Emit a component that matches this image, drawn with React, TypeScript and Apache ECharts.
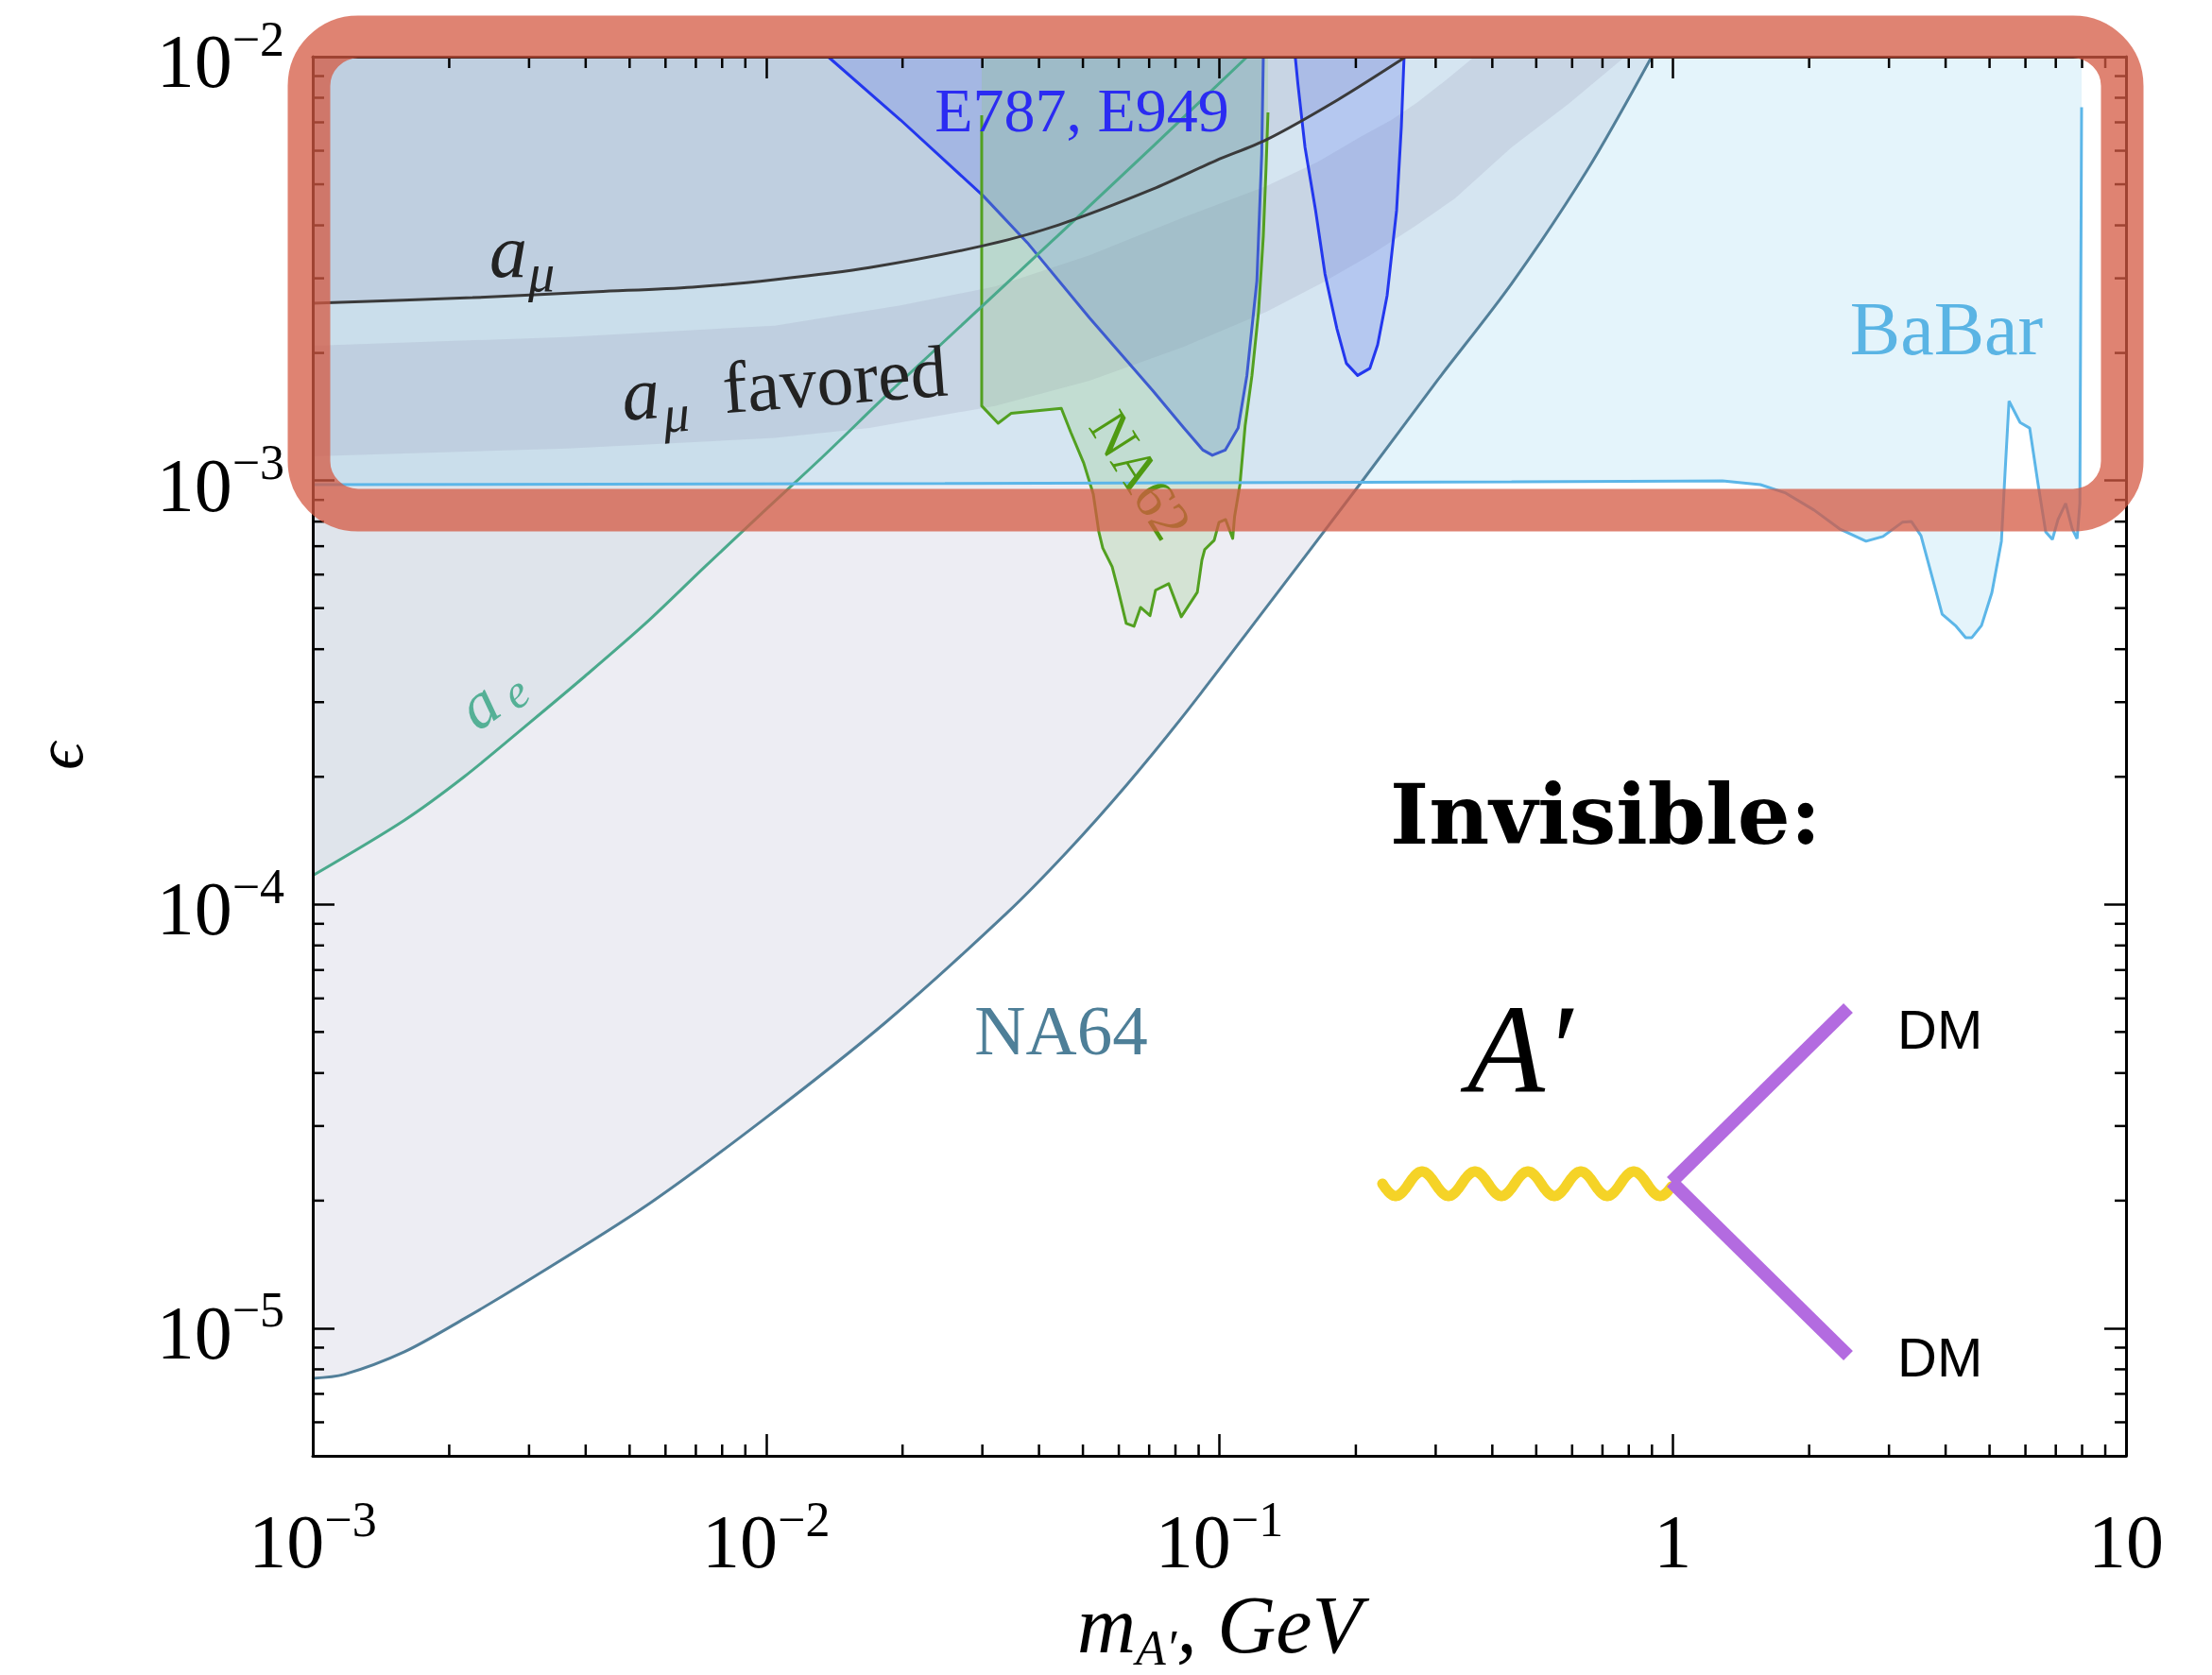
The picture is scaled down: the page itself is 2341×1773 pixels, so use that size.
import React, { useEffect, useRef } from "react";
import * as echarts from "echarts";

// ---------- axis ranges ----------
const X_MIN = 1e-3;
const X_MAX = 10;
const Y_MIN = 5e-6;
const Y_MAX = 1e-2;

const MINOR_MULTIPLIERS = [2, 3, 4, 5, 6, 7, 8, 9];
const X_DECADES = [-3, -2, -1, 0];
const Y_DECADES = [-6, -5, -4, -3];

// ---------- curves: [m_A' (GeV), epsilon] ----------
const NA64_CURVE = [
  [1e-3, 7.62e-6], [1.172e-3, 7.78e-6], [1.593e-3, 8.8e-6], [2.157e-3, 1.053e-5], [2.93e-3, 1.28e-5],
  [5.42e-3, 1.94e-5], [9.96e-3, 3.13e-5], [1.84e-2, 5.28e-5], [3.39e-2, 9.52e-5], [4.61e-2, 1.33e-4],
  [6.26e-2, 1.92e-4], [8.51e-2, 2.87e-4], [0.1227, 4.79e-4], [0.206, 9.93e-4],
  [0.301, 1.71e-3], [0.4417, 2.92e-3], [0.648, 5.4e-3], [0.899, 1e-2],
];

const A_E_CURVE = [
  [1e-3, 1.17e-4], [1.593e-3, 1.58e-4], [2.157e-3, 2.0e-4], [2.93e-3, 2.62e-4],
  [3.98e-3, 3.45e-4], [5.42e-3, 4.6e-4], [7.33e-3, 6.26e-4], [9.96e-3, 8.52e-4],
  [1.33e-2, 1.135e-3], [1.89e-2, 1.63e-3], [2.73e-2, 2.35e-3], [4.41e-2, 3.79e-3],
  [7.13e-2, 6.14e-3], [0.1152, 1e-2],
];

const A_MU_CURVE = [
  [1e-3, 2.62e-3], [2.25e-3, 2.7e-3], [4.25e-3, 2.79e-3], [6.88e-3, 2.86e-3],
  [1.045e-2, 2.98e-3], [1.69e-2, 3.18e-3], [3.01e-2, 3.58e-3], [4.42e-2, 4.01e-3],
  [7.13e-2, 4.87e-3], [9.84e-2, 5.69e-3], [0.127, 6.37e-3], [0.182, 7.9e-3], [0.258, 1e-2],
];

const A_MU_BAND_UPPER = [
  [1e-3, 2.08e-3], [3.64e-3, 2.18e-3], [1.045e-2, 2.32e-3], [1.98e-2, 2.59e-3],
  [3.2e-2, 2.87e-3], [5.17e-2, 3.4e-3], [8.35e-2, 4.18e-3], [0.127, 4.95e-3],
  [0.165, 5.65e-3], [0.205, 6.47e-3], [0.24, 7.1e-3], [0.274, 7.82e-3], [0.318, 8.85e-3], [0.365, 1e-2],
];

const A_MU_BAND_LOWER = [
  [1e-3, 1.14e-3], [3.64e-3, 1.19e-3], [1.045e-2, 1.26e-3], [1.69e-2, 1.33e-3],
  [3.2e-2, 1.5e-3], [5.17e-2, 1.72e-3], [8.35e-2, 2.07e-3], [0.127, 2.5e-3],
  [0.168, 2.92e-3], [0.215, 3.4e-3], [0.27, 3.98e-3], [0.331, 4.63e-3], [0.441, 6.11e-3],
  [0.589, 7.74e-3], [0.785, 1e-2],
];

const BABAR_CURVE = [
  [1e-3, 9.78e-4], [2.48e-2, 9.84e-4], [0.441, 9.93e-4], [1.288, 9.98e-4],
  [1.561, 9.78e-4], [1.776, 9.34e-4], [2.05, 8.52e-4], [2.334, 7.69e-4],
  [2.67, 7.19e-4], [2.91, 7.38e-4], [3.21, 7.97e-4], [3.36, 8.01e-4],
  [3.53, 7.41e-4], [3.78, 5.65e-4], [3.93, 4.84e-4], [4.22, 4.53e-4],
  [4.43, 4.26e-4], [4.57, 4.26e-4], [4.8, 4.55e-4], [5.06, 5.44e-4],
  [5.31, 7.19e-4], [5.41, 1.045e-3], [5.52, 1.54e-3], [5.84, 1.37e-3],
  [6.13, 1.33e-3], [6.4, 9.78e-4], [6.65, 7.57e-4], [6.88, 7.26e-4],
  [7.08, 8.09e-4], [7.36, 8.83e-4], [7.61, 7.69e-4], [7.8, 7.29e-4],
  [7.91, 8.83e-4], [7.98, 7.6e-3],
];

const E787_LEFT_LOBE = [
  [1.37e-2, 1e-2], [1.98e-2, 7.09e-3], [3.01e-2, 4.7e-3], [3.77e-2, 3.64e-3],
  [5.17e-2, 2.42e-3], [7.13e-2, 1.63e-3], [8.35e-2, 1.33e-3], [9.2e-2, 1.18e-3],
  [9.65e-2, 1.147e-3], [0.103, 1.18e-3], [0.11, 1.33e-3], [0.115, 1.77e-3],
  [0.121, 2.96e-3], [0.124, 5.89e-3], [0.125, 1e-2],
];

const E787_RIGHT_LOBE = [
  [0.147, 1e-2], [0.149, 8.62e-3], [0.1545, 6.11e-3], [0.163, 4.34e-3],
  [0.171, 3.07e-3], [0.1817, 2.28e-3], [0.1906, 1.89e-3], [0.2018, 1.77e-3],
  [0.2148, 1.84e-3], [0.2234, 2.09e-3], [0.2344, 2.73e-3], [0.246, 4.34e-3],
  [0.252, 6.84e-3], [0.2555, 1e-2],
];

const NA62_OUTLINE = [
  [2.99e-2, 7.27e-3], [2.99e-2, 1.5e-3], [3.25e-2, 1.365e-3], [3.47e-2, 1.44e-3],
  [4.48e-2, 1.48e-3], [4.7e-2, 1.3e-3], [5.02e-2, 1.1e-3], [5.27e-2, 9.29e-4],
  [5.42e-2, 7.57e-4], [5.53e-2, 6.93e-4], [5.8e-2, 6.26e-4], [5.97e-2, 5.56e-4],
  [6.23e-2, 4.6e-4], [6.48e-2, 4.53e-4], [6.7e-2, 5.02e-4], [7.03e-2, 4.8e-4],
  [7.23e-2, 5.51e-4], [7.73e-2, 5.71e-4], [8.24e-2, 4.77e-4], [8.94e-2, 5.45e-4],
  [9.15e-2, 6.49e-4], [9.28e-2, 6.87e-4], [9.74e-2, 7.23e-4], [9.98e-2, 7.97e-4],
  [0.1032, 8.09e-4], [0.107, 7.3e-4], [0.108, 8.21e-4], [0.111, 9.78e-4],
  [0.114, 1.35e-3], [0.118, 1.77e-3], [0.122, 2.5e-3], [0.125, 3.77e-3],
  [0.1267, 5.41e-3], [0.128, 7.39e-3],
];

const X_MINOR_TICKS = X_DECADES.flatMap((d) => MINOR_MULTIPLIERS.map((k) => k * Math.pow(10, d)));
const Y_MINOR_TICKS = Y_DECADES.flatMap((d) => MINOR_MULTIPLIERS.map((k) => k * Math.pow(10, d))).filter(
  (v) => v > Y_MIN * 1.001 && v < Y_MAX * 0.999
);

// ---------- styles ----------
const SERIF = '"Liberation Serif", "DejaVu Serif", serif';
const SANS = '"Liberation Sans", Arial, sans-serif';
const LW = 3;

const labelRich = {
  b: { fontFamily: SERIF, fontSize: 80, lineHeight: 90, verticalAlign: "bottom", color: "#000" },
  s: { fontFamily: SERIF, fontSize: 52, lineHeight: 50, verticalAlign: "top", color: "#000" },
};

function powLabel(v: number) {
  const e = Math.log10(v);
  const r = Math.round(e);
  if (Math.abs(e - r) > 0.01) return "";
  if (r === 0) return "{b|1}";
  if (r === 1) return "{b|10}";
  return "{b|10}{s|" + (r < 0 ? "\u2212" + -r : String(r)) + "}";
}

function fillSeries(data: number[][], color: string, smooth: number) {
  return {
    type: "line",
    data,
    symbol: "none",
    smooth,
    silent: true,
    z: 1,
    lineStyle: { width: 0, opacity: 0 },
    areaStyle: { origin: "end", color, opacity: 1 },
  };
}

function strokeSeries(data: number[][], color: string, smooth: number) {
  return {
    type: "line",
    data,
    symbol: "none",
    smooth,
    silent: true,
    z: 3,
    lineStyle: { color, width: LW },
  };
}

function regionSeries(outline: number[][], extra: number[][], fill: string, stroke: string | null, z: number) {
  return {
    type: "custom",
    coordinateSystem: "cartesian2d",
    silent: true,
    z,
    data: outline,
    renderItem: (params: any, api: any) => {
      if (params.context.done) return null;
      params.context.done = true;
      const pts = outline.map((p) => api.coord(p));
      const poly = pts.concat(extra.map((p) => api.coord(p)));
      const children: any[] = [{ type: "polygon", shape: { points: poly }, style: { fill, stroke: "none" } }];
      if (stroke) {
        children.push({
          type: "polyline",
          shape: { points: pts },
          style: { stroke, lineWidth: LW, fill: "none", lineJoin: "round" },
        });
      }
      return { type: "group", children };
    },
  };
}

function minorTickSeries(values: number[], isX: boolean) {
  return {
    type: "custom",
    coordinateSystem: "cartesian2d",
    silent: true,
    z: 8,
    clip: false,
    data: values.map((v) => (isX ? [v, Y_MIN] : [X_MIN, v])),
    renderItem: (params: any, api: any) => {
      const L = 12;
      const st = { stroke: "#000", lineWidth: 2.5 };
      if (isX) {
        const x = api.value(0);
        const b = api.coord([x, Y_MIN]);
        const t = api.coord([x, Y_MAX]);
        return {
          type: "group",
          children: [
            { type: "line", shape: { x1: b[0], y1: b[1], x2: b[0], y2: b[1] - L }, style: st },
            { type: "line", shape: { x1: t[0], y1: t[1], x2: t[0], y2: t[1] + L }, style: st },
          ],
        };
      }
      const y = api.value(1);
      const l = api.coord([X_MIN, y]);
      const r = api.coord([X_MAX, y]);
      return {
        type: "group",
        children: [
          { type: "line", shape: { x1: l[0], y1: l[1], x2: l[0] + L, y2: l[1] }, style: st },
          { type: "line", shape: { x1: r[0], y1: r[1], x2: r[0] - L, y2: r[1] }, style: st },
        ],
      };
    },
  };
}

function txt(text: string, x: number, y: number, o: any) {
  return {
    type: "text",
    x,
    y,
    z: 50,
    rotation: o.rotation || 0,
    silent: true,
    style: {
      text,
      fill: o.color || "#000",
      fontFamily: o.family || SERIF,
      fontSize: o.size,
      fontStyle: o.italic ? "italic" : "normal",
      fontWeight: o.bold ? "bold" : "normal",
      align: o.align || "left",
      verticalAlign: "middle",
    },
  };
}

function buildWave() {
  const x0 = 1463;
  const x1 = 1769;
  const yc = 1253;
  const amp = 13;
  const period = 56;
  const pts: number[][] = [];
  for (let x = x0; x <= x1; x += 2) pts.push([x, yc + amp * Math.sin((2 * Math.PI * (x - x0)) / period)]);
  return pts;
}

function buildOption() {
  const axisCommon = {
    type: "log",
    logBase: 10,
    z: 10,
    axisLine: { show: true, onZero: false, lineStyle: { color: "#000", width: 3 } },
    axisTick: { show: true, inside: true, length: 23, lineStyle: { color: "#000", width: 2.5 } },
    splitLine: { show: false },
    minorTick: { show: false },
  };

  const graphics: any[] = [
    // a_mu line label
    txt("a", 518, 266, { size: 80, italic: true, color: "#222" }),
    txt("\u03bc", 559, 289, { size: 56, italic: true, color: "#222" }),
    // a_mu favored label
    {
      type: "group",
      x: 660,
      y: 445,
      rotation: 0.078,
      z: 50,
      children: [
        txt("a", 0, -27, { size: 80, italic: true, color: "#222" }),
        txt("\u03bc", 42, -3, { size: 56, italic: true, color: "#222" }),
        txt("favored", 107, -26, { size: 78, color: "#222" }),
      ],
    },
    // a_e label
    {
      type: "group",
      x: 506,
      y: 746,
      rotation: 0.62,
      z: 50,
      children: [
        txt("a", 0, 0, { size: 70, italic: true, color: "#55b096", align: "center" }),
        txt("e", 40, 12, { size: 50, italic: true, color: "#55b096", align: "center" }),
      ],
    },
    txt("E787, E949", 1145, 116, { size: 66, color: "#2b2bf2", align: "center" }),
    txt("NA62", 1207, 503, { size: 60, color: "#4f9a12", align: "center", rotation: -1.007 }),
    txt("BaBar", 2060, 348, { size: 80, color: "#5ab4e4", align: "center" }),
    txt("NA64", 1123, 1090, { size: 75, color: "#4e7f98", align: "center" }),
    txt("Invisible:", 1471, 862, { size: 88, family: '"DejaVu Serif", serif', bold: true }),
    txt("A\u2032", 1553, 1110, { size: 134, italic: true }),
    txt("DM", 2008, 1089, { size: 58, family: SANS }),
    txt("DM", 2008, 1436, { size: 58, family: SANS }),
    {
      type: "polyline",
      z: 50,
      silent: true,
      shape: { points: buildWave() },
      style: { stroke: "#f5d327", lineWidth: 11, fill: "none", lineCap: "round", lineJoin: "round" },
    },
    {
      type: "line",
      z: 50,
      silent: true,
      shape: { x1: 1769, y1: 1251, x2: 1956, y2: 1067 },
      style: { stroke: "#b36be0", lineWidth: 14 },
    },
    {
      type: "line",
      z: 50,
      silent: true,
      shape: { x1: 1769, y1: 1251, x2: 1956, y2: 1435 },
      style: { stroke: "#b36be0", lineWidth: 14 },
    },
    // highlight frame
    {
      type: "rect",
      z: 100,
      silent: true,
      shape: { x: 327, y: 39, width: 1919, height: 501, r: 52 },
      style: { fill: "none", stroke: "rgba(212,90,67,0.75)", lineWidth: 45 },
    },
  ];

  return {
    animation: false,
    backgroundColor: "#fff",
    grid: { left: 331, right: 91, top: 60, bottom: 232, containLabel: false, outerBoundsMode: "none" },
    xAxis: [
      {
        ...axisCommon,
        position: "bottom",
        min: X_MIN,
        max: X_MAX,
        axisLabel: {
          formatter: powLabel,
          rich: labelRich,
          margin: 41,
          showMinLabel: true,
          showMaxLabel: true,
          hideOverlap: false,
        },
        name: "{m|m}{s|A\u2032}{g|, GeV}",
        nameLocation: "middle",
        nameGap: 120,
        nameTextStyle: {
          rich: {
            m: { fontFamily: SERIF, fontStyle: "italic", fontSize: 86, lineHeight: 94, verticalAlign: "top", color: "#000" },
            s: { fontFamily: SERIF, fontStyle: "italic", fontSize: 52, lineHeight: 58, verticalAlign: "bottom", color: "#000" },
            g: { fontFamily: SERIF, fontStyle: "italic", fontSize: 86, lineHeight: 94, verticalAlign: "top", color: "#000" },
          },
        },
      },
      {
        ...axisCommon,
        position: "top",
        min: X_MIN,
        max: X_MAX,
        axisLabel: { show: false },
      },
    ],
    yAxis: [
      {
        ...axisCommon,
        position: "left",
        min: Y_MIN,
        max: Y_MAX,
        axisLabel: {
          formatter: powLabel,
          rich: labelRich,
          margin: 30,
          showMinLabel: true,
          showMaxLabel: true,
          hideOverlap: false,
        },
        name: "\u03f5",
        nameLocation: "middle",
        nameRotate: 90,
        nameGap: 232,
        nameTextStyle: { fontFamily: SERIF, fontStyle: "italic", fontSize: 72, color: "#000" },
      },
      {
        ...axisCommon,
        position: "right",
        min: Y_MIN,
        max: Y_MAX,
        axisLabel: { show: false },
      },
    ],
    series: [
      fillSeries(NA64_CURVE, "rgba(190,190,212,0.28)", 0.3),
      fillSeries(A_E_CURVE, "rgba(150,180,192,0.15)", 0.3),
      fillSeries(BABAR_CURVE, "rgba(120,200,235,0.2)", 0),
      fillSeries(A_MU_CURVE, "rgba(150,150,180,0.2)", 0.3),
      regionSeries(A_MU_BAND_UPPER.concat(A_MU_BAND_LOWER.slice().reverse()), [], "rgba(150,150,180,0.2)", null, 1),
      regionSeries(E787_LEFT_LOBE, [], "rgba(70,100,235,0.22)", "#2337ee", 2),
      regionSeries(E787_RIGHT_LOBE, [], "rgba(70,100,235,0.22)", "#2337ee", 2),
      regionSeries(
        NA62_OUTLINE,
        [
          [NA62_OUTLINE[NA62_OUTLINE.length - 1][0], Y_MAX],
          [NA62_OUTLINE[0][0], Y_MAX],
        ],
        "rgba(140,200,120,0.25)",
        "#52a020",
        2
      ),
      strokeSeries(NA64_CURVE, "#527f99", 0.3),
      strokeSeries(A_E_CURVE, "#4aa98c", 0.3),
      strokeSeries(BABAR_CURVE, "#5cb6e8", 0),
      strokeSeries(A_MU_CURVE, "#3a3a3a", 0.3),
      minorTickSeries(X_MINOR_TICKS, true),
      minorTickSeries(Y_MINOR_TICKS, false),
    ],
    graphic: graphics,
  };
}

export default function App() {
  const ref = useRef<HTMLDivElement>(null);
  useEffect(() => {
    if (!ref.current) return;
    const chart = echarts.init(ref.current, null, { renderer: "svg" });
    chart.setOption(buildOption() as any);
    return () => chart.dispose();
  }, []);
  return (
    <div
      ref={ref}
      style={{ position: "fixed", left: 0, top: 0, width: 2341, height: 1773, background: "#fff" }}
    />
  );
}
